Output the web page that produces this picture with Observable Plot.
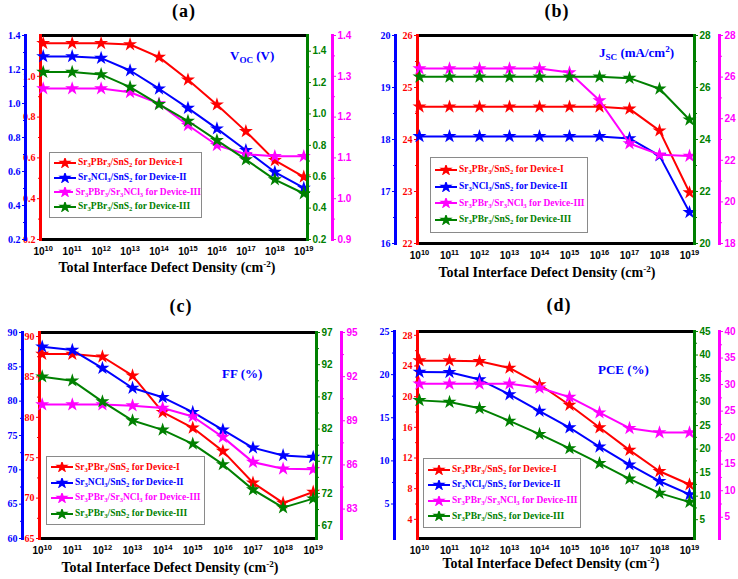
<!DOCTYPE html>
<html>
<head>
<meta charset="utf-8">
<script src="https://cdn.jsdelivr.net/npm/d3@7"></script>
<script src="https://cdn.jsdelivr.net/npm/@observablehq/plot@0.6"></script>
<style>
  body { margin: 0; background: #fff; }
  #fig { position: relative; width: 738px; height: 579px; overflow: hidden; }
  .panel { position: absolute; }
  .panel svg { position: absolute; left: 0; top: 0; }
  .ttl { position: absolute; transform: translate(-50%, -50%); font: bold 18px 'Liberation Serif', serif; letter-spacing: 1px; white-space: nowrap; }
  .xt { position: absolute; transform: translate(-50%, -50%); font: bold 14px 'Liberation Serif', serif; white-space: nowrap; line-height: 1; }
  .xt sup { font-size: 65%; vertical-align: 5px; line-height: 0; }
  .qty { position: absolute; font: bold 13px 'Liberation Serif', serif; color: #0000ff; white-space: nowrap; line-height: 1; }
  .qty sub { font-size: 70%; vertical-align: -3px; line-height: 0; }
  .qty sup { font-size: 70%; vertical-align: 5px; line-height: 0; }
  .leg { position: absolute; box-sizing: border-box; border: 1px solid #8a8a8a; background: #fff;
         display: flex; flex-direction: column; justify-content: space-evenly; padding-left: 4px;
         font: bold 9.5px 'Liberation Serif', serif; line-height: 1; }
  .leg div { display: flex; align-items: center; white-space: nowrap; }
  .leg svg { position: static; margin-right: 2px; }
  .leg sub { font-size: 70%; vertical-align: -2px; line-height: 0; }
</style>
</head>
<body>
<div id="fig"></div>
<script>
// defect density on x (cm^-2)
const density = [1e10, 1e11, 1e12, 1e13, 1e14, 1e15, 1e16, 1e17, 1e18, 1e19];

const seriesNames = [
  "Sr<sub>3</sub>PBr<sub>3</sub>/SnS<sub>2</sub> for Device-I",
  "Sr<sub>3</sub>NCl<sub>3</sub>/SnS<sub>2</sub> for Device-II",
  "Sr<sub>3</sub>PBr<sub>3</sub>/Sr<sub>3</sub>NCl<sub>3</sub> for Device-III",
  "Sr<sub>3</sub>PBr<sub>3</sub>/SnS<sub>2</sub> for Device-III"
];
const colors = ["#ff0000", "#0000ff", "#ff00ff", "#008000"];

// (a) Voc (V)
const vocDevI   = [1.162, 1.162, 1.162, 1.156, 1.094, 0.983, 0.861, 0.730, 0.588, 0.507];
const vocDevII  = [1.277, 1.277, 1.267, 1.194, 1.087, 0.973, 0.852, 0.725, 0.597, 0.503];
const vocDevIII = [1.270, 1.270, 1.270, 1.261, 1.233, 1.180, 1.131, 1.109, 1.104, 1.104];
const vocDevIIIb = [1.267, 1.267, 1.252, 1.171, 1.061, 0.955, 0.832, 0.709, 0.582, 0.493];

// (b) Jsc (mA/cm2)
const jscDevI   = [24.63, 24.63, 24.63, 24.63, 24.63, 24.63, 24.63, 24.59, 24.17, 22.98];
const jscDevII  = [18.06, 18.06, 18.06, 18.06, 18.06, 18.06, 18.06, 18.02, 17.69, 16.60];
const jscDevIII = [26.41, 26.41, 26.41, 26.41, 26.41, 26.22, 24.87, 22.81, 22.27, 22.21];
const jscDevIIIb = [26.41, 26.41, 26.41, 26.41, 26.41, 26.41, 26.41, 26.36, 25.95, 24.76];

// (c) FF (%)
const ffDevI   = [87.83, 87.83, 87.5, 85.15, 80.63, 78.7, 75.82, 71.9, 69.4, 70.76];
const ffDevII  = [87.92, 87.44, 84.82, 81.92, 80.56, 78.39, 75.82, 73.21, 72.10, 71.85];
const ffDevIII = [90.1, 90.1, 90.1, 90.03, 89.87, 89.29, 87.89, 86.19, 85.74, 85.70];
const ffDevIIIb = [90.14, 89.52, 86.26, 83.32, 81.88, 79.71, 76.51, 72.59, 69.8, 71.19];

// (d) PCE (%)
const pceDevI   = [24.7, 24.7, 24.61, 23.75, 21.59, 18.91, 15.97, 13.03, 10.27, 8.54];
const pceDevII  = [20.31, 20.28, 19.43, 17.70, 15.78, 13.86, 11.64, 9.56, 7.64, 6.11];
const pceDevIII = [30.14, 30.14, 30.14, 30.14, 29.39, 27.64, 24.71, 21.78, 20.97, 20.97];
const pceDevIIIb = [30.36, 30.0, 28.67, 25.99, 23.18, 20.15, 16.98, 13.67, 10.64, 8.74];

// axis ticks, order: red, blue, magenta, green
const vocTicks = [[0.2, 0.4, 0.6, 0.8, 1.0], [0.2, 0.4, 0.6, 0.8, 1.0, 1.2, 1.4],
                  [0.9, 1.0, 1.1, 1.2, 1.3, 1.4], [0.2, 0.4, 0.6, 0.8, 1.0, 1.2, 1.4]];
const jscTicks = [[22, 23, 24, 25, 26], [16, 17, 18, 19, 20],
                  [18, 20, 22, 24, 26, 28], [20, 22, 24, 26, 28]];
const ffTicks  = [[65, 70, 75, 80, 85, 90], [60, 65, 70, 75, 80, 85, 90],
                  [83, 86, 89, 92, 95], [67, 72, 77, 82, 87, 92, 97]];
const pceTicks = [[4, 8, 12, 16, 20, 24, 28], [5, 10, 15, 20, 25],
                  [5, 10, 15, 20, 25, 30, 35, 40], [5, 10, 15, 20, 25, 30, 35, 40, 45]];

const vocDomains = [[0.2, 1.2], [0.2, 1.4], [0.9, 1.4], [0.2, 1.5]];
const jscDomains = [[22, 26], [16, 20], [18, 28], [20, 28]];
const ffDomains  = [[65, 90.5], [60, 90], [81, 95], [65, 97]];
const pceDomains = [[1.5, 28.5], [1, 25], [1, 40], [1, 45]];

const serif = "'Liberation Serif', 'Times New Roman', serif";
const sans = "'Liberation Sans', Arial, sans-serif";

const panels = [
  { left: 0, top: 0, W: 369, H: 290, fTop: 35, fBot: 239, xBlue: 25, xRed: 40, xGreen: 307, xMag: 332,
    p0: 42.7, p1: 303.3, title: "(a)", titlePos: [184, 11], xTitlePos: [167, 268],
    qty: "V<sub>OC</sub> (V)", qtyPos: [230, 49], legend: [49, 152, 153, 66], fmt: ".1f",
    values: [vocDevI, vocDevII, vocDevIII, vocDevIIIb], ticks: vocTicks, domains: vocDomains },
  { left: 369, top: 0, W: 369, H: 290, fTop: 35, fBot: 243, xBlue: 26, xRed: 48, xGreen: 325, xMag: 350,
    p0: 50, p1: 320, title: "(b)", titlePos: [188, 11], xTitlePos: [178, 273], fmt: "d",
    qty: "J<sub>SC</sub> (mA/cm<sup>2</sup>)", qtyPos: [230, 46], legend: [61, 157, 158, 76],
    values: [jscDevI, jscDevII, jscDevIII, jscDevIIIb], ticks: jscTicks, domains: jscDomains },
  { left: 0, top: 290, W: 369, H: 289, fTop: 42, fBot: 248, xBlue: 22, xRed: 39, xGreen: 316, xMag: 341,
    p0: 41.7, p1: 312.7, title: "(c)", titlePos: [181, 16], xTitlePos: [170, 278], fmt: "d",
    qty: "FF (%)", qtyPos: [222, 77], legend: [46, 166, 159, 69],
    values: [ffDevI, ffDevII, ffDevIII, ffDevIIIb], ticks: ffTicks, domains: ffDomains },
  { left: 369, top: 290, W: 369, H: 289, fTop: 41, fBot: 248, xBlue: 25, xRed: 48, xGreen: 325, xMag: 350,
    p0: 50, p1: 320, title: "(d)", titlePos: [190, 15], xTitlePos: [182, 274], fmt: "d",
    qty: "PCE (%)", qtyPos: [229, 73], legend: [54, 168, 158, 70],
    values: [pceDevI, pceDevII, pceDevIII, pceDevIIIb], ticks: pceTicks, domains: pceDomains }
];

// minor ticks halfway between the labelled ones
const minorOf = t => t.slice(1).map((v, i) => (v + t[i]) / 2);

// one overlaid svg per series, each with its own y scale
function layer(p, k) {
  const color = colors[k];
  const side = k < 2 ? "left" : "right";
  const axisAt = [p.xRed, p.xBlue, p.xMag, p.xGreen][k];
  const l = side === "left" ? axisAt : p.xRed;
  const r = side === "right" ? axisAt : p.xGreen;
  const rows = density.map((x, i) => ({x, y: p.values[k][i]}));
  const base = k === 0;
  const marks = [];
  if (base) {
    marks.push(
      Plot.frame({anchor: "top", stroke: "black", strokeWidth: 3}),
      Plot.frame({anchor: "bottom", stroke: "black", strokeWidth: 3}),
      Plot.axisX({ticks: density, tickFormat: d => String(Math.round(Math.log10(d))), tickSize: 0, tickPadding: 8,
                  label: null, fontFamily: sans, fontSize: 10, fontWeight: "bold"})
    );
  }
  marks.push(
    Plot.frame({anchor: side, stroke: color, strokeWidth: 3}),
    Plot.axisY({anchor: side, ticks: minorOf(p.ticks[k]), tickFormat: () => "", color, tickSize: 2, label: null}),
    Plot.axisY({anchor: side, ticks: p.ticks[k], tickFormat: p.fmt, color, tickSize: 3, tickPadding: 2,
                label: null, fontFamily: side === "left" ? serif : sans, fontSize: 10, fontWeight: "bold"}),
    Plot.line(rows, {x: "x", y: "y", stroke: color, strokeWidth: 2}),
    Plot.dot(rows, {x: "x", y: "y", symbol: "star", r: 4.4, fill: color})
  );
  const svg = Plot.plot({
    width: p.W, height: p.H,
    marginTop: p.fTop, marginBottom: p.H - p.fBot,
    marginLeft: l, marginRight: p.W - r,
    x: {type: "log", domain: [1e10, 1e19], insetLeft: p.p0 - l, insetRight: r - p.p1, ...(base ? {} : {axis: null})},
    y: {domain: p.domains[k]},
    style: {background: "transparent", overflow: "visible", fontFamily: serif},
    marks
  });
  if (base) {
    // turn exponent labels into 10 with a raised exponent
    d3.select(svg).selectAll('g[aria-label="x-axis tick label"] text').each(function () {
      const e = this.textContent;
      const t = d3.select(this).text("10");
      t.append("tspan").attr("dy", "-0.5em").attr("font-size", "7.5px").text(e);
    });
  }
  return svg;
}

function legendSymbol(color) {
  const s = d3.create("svg").attr("width", 22).attr("height", 10);
  s.append("line").attr("x1", 0).attr("x2", 22).attr("y1", 5).attr("y2", 5)
    .attr("stroke", color).attr("stroke-width", 2);
  s.append("path").attr("transform", "translate(11,5)")
    .attr("d", d3.symbol(d3.symbolStar, 55)()).attr("fill", color);
  return s.node();
}

const fig = d3.select("#fig");
for (const p of panels) {
  const div = fig.append("div").attr("class", "panel")
    .style("left", p.left + "px").style("top", p.top + "px")
    .style("width", p.W + "px").style("height", p.H + "px");
  // order: red, blue, magenta, green (green on top)
  for (const k of [0, 1, 2, 3]) div.append(() => layer(p, k));

  div.append("div").attr("class", "ttl").style("left", p.titlePos[0] + "px").style("top", p.titlePos[1] + "px").text(p.title);
  div.append("div").attr("class", "xt").style("left", p.xTitlePos[0] + "px").style("top", p.xTitlePos[1] + "px")
    .html("Total Interface Defect Density (cm<sup>-2</sup>)");
  div.append("div").attr("class", "qty").style("left", p.qtyPos[0] + "px").style("top", p.qtyPos[1] + "px").html(p.qty);

  const leg = div.append("div").attr("class", "leg")
    .style("left", p.legend[0] + "px").style("top", p.legend[1] + "px")
    .style("width", p.legend[2] + "px").style("height", p.legend[3] + "px");
  seriesNames.forEach((name, k) => {
    const row = leg.append("div").style("color", colors[k]);
    row.append(() => legendSymbol(colors[k]));
    row.append("span").html(name);
  });
}
</script>
</body>
</html>
